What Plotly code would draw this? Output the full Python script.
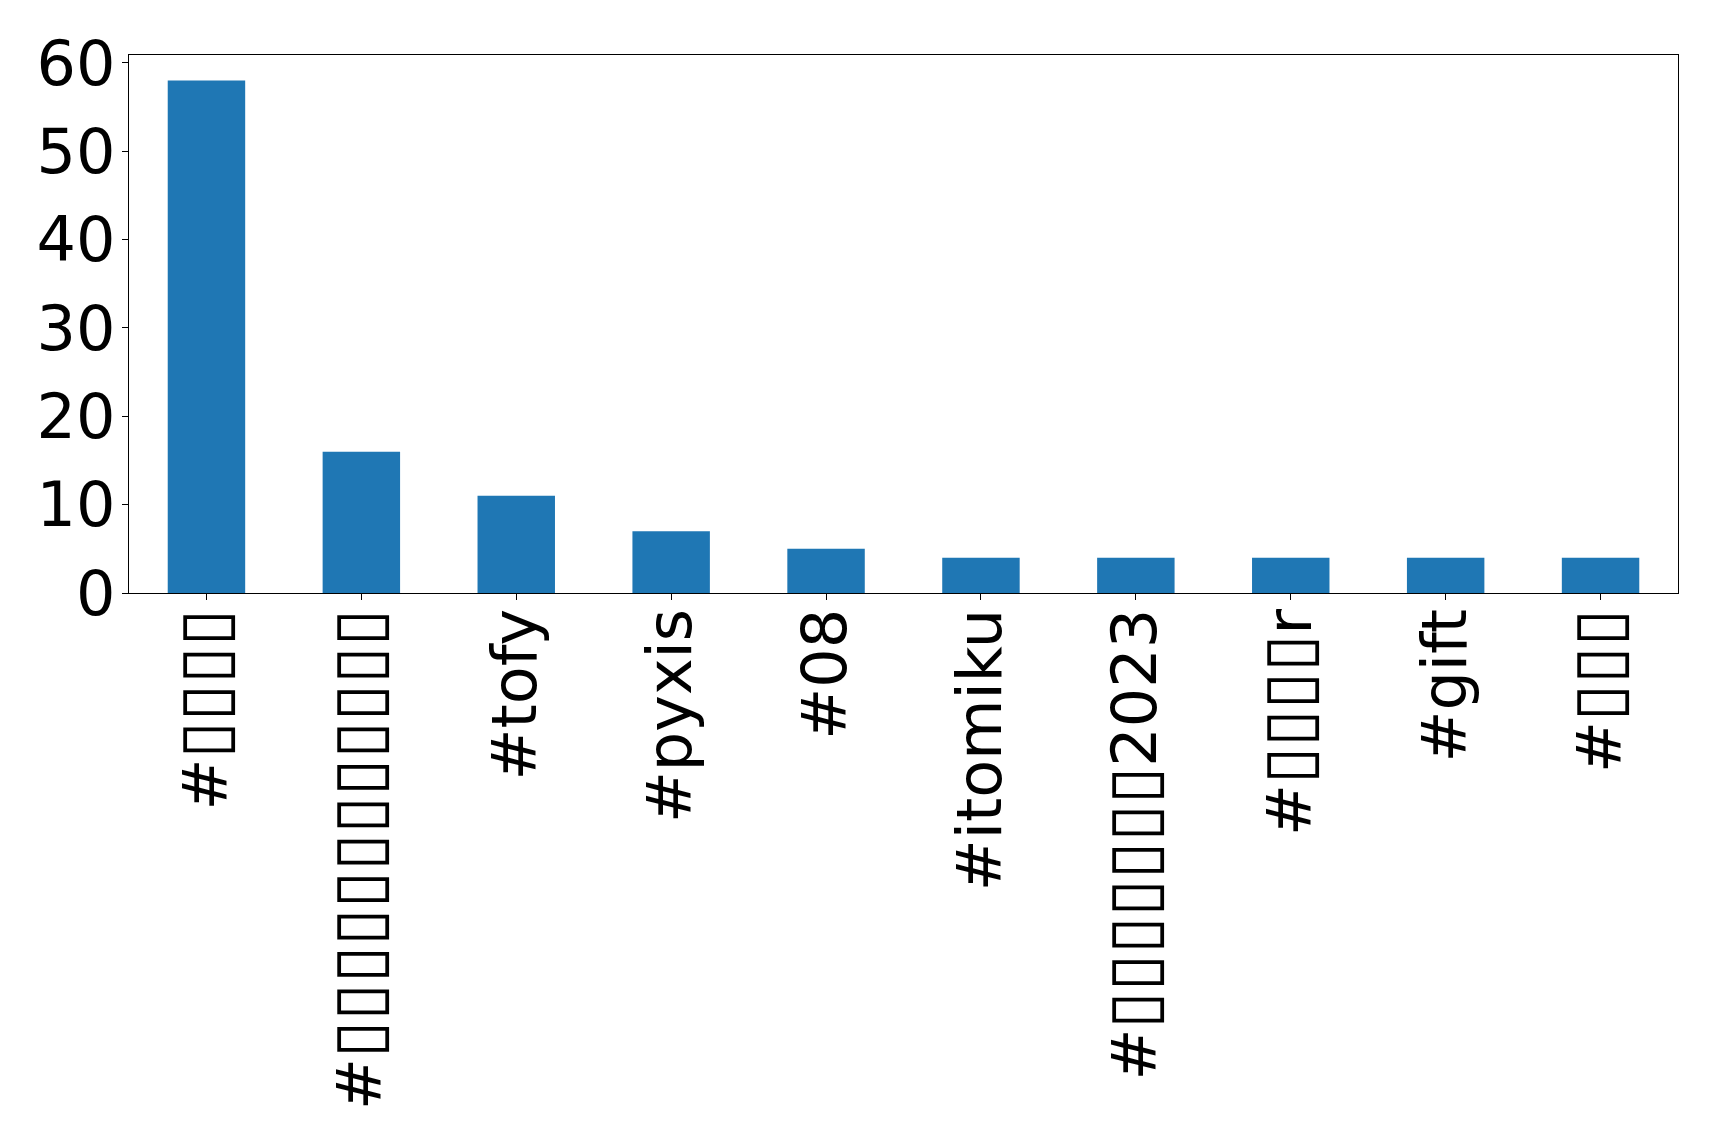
import plotly.graph_objects as go

BOX = '<span style="font-size:68px">▯</span>'

def tofu(n):
    return BOX * n

categories = ["#" + tofu(4), "#" + tofu(12), "#tofy", "#pyxis", "#08",
              "#itomiku", "#" + tofu(7) + "2023", "#" + tofu(4) + "r", "#gift", "#" + tofu(3)]
counts = [58, 16, 11, 7, 5, 4, 4, 4, 4, 4]

fig = go.Figure(go.Bar(
    x=list(range(len(categories))), y=counts, width=0.5,
    marker=dict(color="#1f77b4", line=dict(width=0)),
))

fig.update_layout(
    width=1719, height=1146,
    paper_bgcolor="white", plot_bgcolor="white",
    margin=dict(l=129, r=41, t=55, b=553, autoexpand=False),
    font=dict(family="DejaVu Sans", size=62, color="black"),
    showlegend=False,
)
fig.update_xaxes(
    range=[-0.5, 9.5], tickmode="array",
    tickvals=list(range(len(categories))), ticktext=categories,
    tickangle=-90, ticks="outside", ticklen=6, tickwidth=1.2, tickcolor="black",
    showline=True, linecolor="black", linewidth=1.2, mirror=True,
    showgrid=False, zeroline=False, automargin=False,
    ticklabelstandoff=-16,
    tickfont=dict(family="DejaVu Sans", size=62, color="black"),
)
fig.update_yaxes(
    range=[0, 60.9], tickvals=[0, 10, 20, 30, 40, 50, 60],
    ticks="outside", ticklen=6, tickwidth=1.2, tickcolor="black",
    showline=True, linecolor="black", linewidth=1.2, mirror=True,
    showgrid=False, zeroline=False, automargin=False,
    ticklabelstandoff=-6,
    tickfont=dict(family="DejaVu Sans", size=62, color="black"),
)

fig.write_html("out.html", config={"displayModeBar": False},
               post_script="document.body.style.margin='0';document.body.style.overflow='hidden';")
